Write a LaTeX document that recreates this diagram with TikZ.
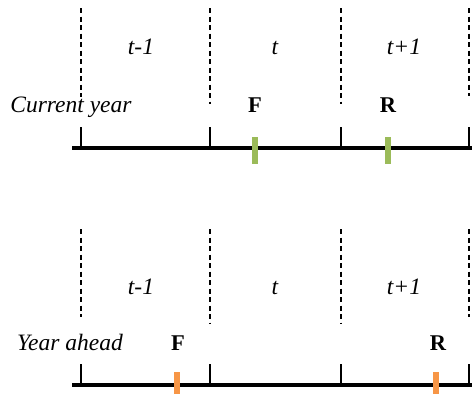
\documentclass[tikz,border=0pt]{standalone}
\usepackage{fontspec}
\setmainfont{Liberation Serif}
\begin{document}
\begin{tikzpicture}[x=1pt,y=-1pt,
  lbl/.style={font=\fontsize{23.5}{26}\selectfont\itshape, inner sep=0pt, anchor=base},
  boldmark/.style={font=\fontsize{22.5}{26}\selectfont\bfseries, inner sep=0pt, anchor=base},
  axis/.style={line width=4pt},
  tickline/.style={line width=1.2pt},
  guide/.style={line width=1.2pt, dash pattern=on 5pt off 3.5pt},
  gbar/.style={line width=5.5pt, draw={rgb,255:red,155;green,187;blue,89}},
  obar/.style={line width=5.5pt, draw={rgb,255:red,247;green,150;blue,70}}]
\useasboundingbox (0,0) rectangle (472,394);
% ---------- Current year ----------
\coordinate (a1) at (72,148);
\coordinate (a2) at (474,148);
\draw[axis] (a1) -- (a2);
\foreach \x/\e in {81/97,210/104,341/104,469/96}{
  \draw[guide] (\x,8) -- (\x,\e);
  \draw[tickline] (\x,127) -- (\x,148);
}
\node[lbl] (tm1) at (141,54) {t-1};
\node[lbl] (t0) at (275,54) {t};
\node[lbl] (tp1) at (404,54) {t+1};
\node[lbl] (cy) at (71,112) {Current year};
\node[boldmark] (F1) at (255,112) {F};
\node[boldmark] (R1) at (388,112) {R};
\draw[gbar] (255,137) -- (255,164);
\draw[gbar] (388,137) -- (388,164);
% ---------- Year ahead ----------
\coordinate (b1) at (72,385);
\coordinate (b2) at (474,385);
\draw[axis] (b1) -- (b2);
\foreach \x/\e in {81/317,210/324,341/324,469/317}{
  \draw[guide] (\x,229) -- (\x,\e);
  \draw[tickline] (\x,364) -- (\x,385);
}
\node[lbl] (sm1) at (141,294) {t-1};
\node[lbl] (s0) at (275,294) {t};
\node[lbl] (sp1) at (404,294) {t+1};
\node[lbl] (ya) at (70,350) {Year ahead};
\node[boldmark] (F2) at (178,350) {F};
\node[boldmark] (R2) at (438,350) {R};
\draw[obar] (177,372) -- (177,396);
\draw[obar] (436,372) -- (436,396);
\end{tikzpicture}
\end{document}
